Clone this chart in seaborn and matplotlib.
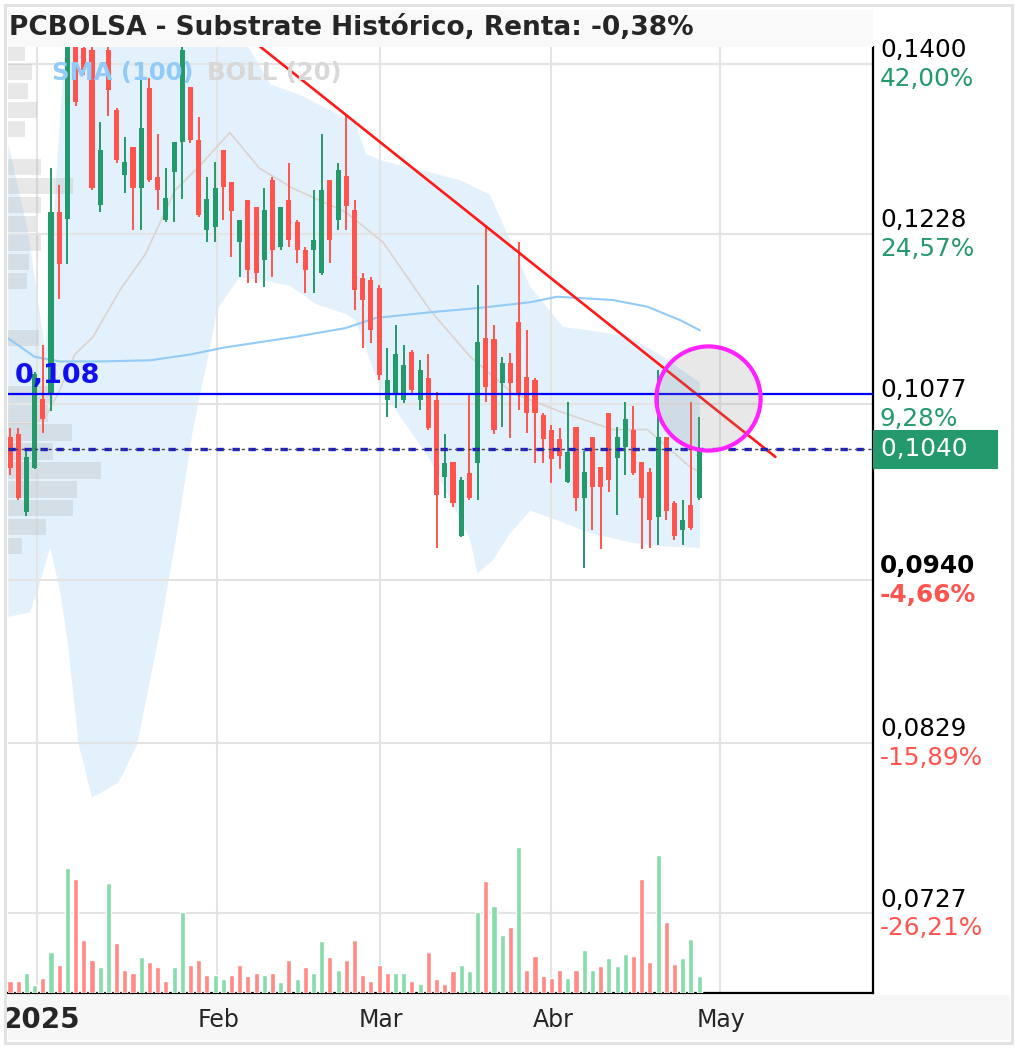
import numpy as np
import pandas as pd
import seaborn as sns
import matplotlib.pyplot as plt
from matplotlib.patches import Rectangle
from matplotlib.ticker import NullLocator

# daily sessions, late Dec 2024 -> end of April 2025
opens = [0.1050, 0.1052, 0.0991, 0.1025, 0.1081, 0.1085, 0.1249, 0.1242, 0.1421, 0.1418,
         0.1415, 0.1256, 0.1415, 0.1351, 0.1285, 0.1313, 0.1272, 0.1374, 0.1283, 0.1241,
         0.1288, 0.1318, 0.1375, 0.1320, 0.1232, 0.1235, 0.1310, 0.1278, 0.1220, 0.1261,
         0.1254, 0.1204, 0.1280, 0.1216, 0.1261, 0.1239, 0.1213, 0.1213, 0.1192, 0.1280,
         0.1241, 0.1284, 0.1251, 0.1187, 0.1185, 0.1178, 0.1080, 0.1086, 0.1080, 0.1121,
         0.1080, 0.1099, 0.1080, 0.1018, 0.1030, 0.0973, 0.1021, 0.1029, 0.1133, 0.1132,
         0.1095, 0.1112, 0.1147, 0.1100, 0.1097, 0.1068, 0.1056, 0.1048, 0.1014, 0.1058,
         0.1002, 0.1050, 0.1026, 0.1070, 0.1033, 0.1042, 0.1056, 0.1030, 0.1022, 0.0987,
         0.1050, 0.0998, 0.0977, 0.0996, 0.1002]
highs = [0.1057, 0.1057, 0.1040, 0.1104, 0.1127, 0.1292, 0.1275, 0.1440, 0.1432, 0.1426,
         0.1421, 0.1339, 0.1421, 0.1353, 0.1323, 0.1313, 0.1385, 0.1385, 0.1327, 0.1292,
         0.1318, 0.1426, 0.1375, 0.1344, 0.1283, 0.1298, 0.1310, 0.1278, 0.1241, 0.1261,
         0.1254, 0.1272, 0.1283, 0.1254, 0.1297, 0.1241, 0.1216, 0.1270, 0.1327, 0.1280,
         0.1297, 0.1347, 0.1261, 0.1192, 0.1188, 0.1181, 0.1125, 0.1145, 0.1127, 0.1123,
         0.1114, 0.1119, 0.1087, 0.1052, 0.1030, 0.1018, 0.1086, 0.1181, 0.1237, 0.1145,
         0.1117, 0.1120, 0.1220, 0.1140, 0.1099, 0.1070, 0.1060, 0.1057, 0.1079, 0.1058,
         0.1039, 0.1050, 0.1026, 0.1070, 0.1058, 0.1079, 0.1075, 0.1030, 0.1025, 0.1106,
         0.1050, 0.0999, 0.1000, 0.1079, 0.1066]
lows = [0.1020, 0.1000, 0.0988, 0.1024, 0.1053, 0.1071, 0.1168, 0.1200, 0.1355, 0.1388,
        0.1270, 0.1249, 0.1345, 0.1297, 0.1267, 0.1232, 0.1232, 0.1278, 0.1251, 0.1239,
        0.1239, 0.1262, 0.1317, 0.1244, 0.1220, 0.1220, 0.1241, 0.1206, 0.1188, 0.1182,
        0.1182, 0.1179, 0.1188, 0.1213, 0.1216, 0.1201, 0.1173, 0.1173, 0.1190, 0.1201,
        0.1232, 0.1232, 0.1158, 0.1125, 0.1129, 0.1097, 0.1066, 0.1074, 0.1078, 0.1086,
        0.1072, 0.1056, 0.0964, 0.1002, 0.0995, 0.0972, 0.1000, 0.1000, 0.1079, 0.1052,
        0.1058, 0.1049, 0.1072, 0.1053, 0.1029, 0.1029, 0.1013, 0.1024, 0.1013, 0.0992,
        0.0949, 0.0977, 0.0963, 0.1006, 0.0989, 0.1020, 0.1020, 0.0963, 0.0964, 0.0966,
        0.0985, 0.0970, 0.0966, 0.0977, 0.1000]
closes = [0.1025, 0.1002, 0.1034, 0.1102, 0.1065, 0.1249, 0.1200, 0.1426, 0.1360, 0.1394,
          0.1272, 0.1310, 0.1372, 0.1300, 0.1298, 0.1272, 0.1333, 0.1280, 0.1270, 0.1263,
          0.1318, 0.1415, 0.1320, 0.1246, 0.1262, 0.1272, 0.1273, 0.1250, 0.1241, 0.1194,
          0.1192, 0.1251, 0.1213, 0.1254, 0.1222, 0.1213, 0.1194, 0.1222, 0.1270, 0.1222,
          0.1290, 0.1255, 0.1176, 0.1167, 0.1140, 0.1101, 0.1097, 0.1119, 0.1110, 0.1089,
          0.1106, 0.1057, 0.1004, 0.1029, 0.0998, 0.1016, 0.1002, 0.1130, 0.1091, 0.1056,
          0.1112, 0.1095, 0.1086, 0.1070, 0.1070, 0.1048, 0.1032, 0.1035, 0.1038, 0.1002,
          0.1022, 0.1010, 0.1010, 0.1016, 0.1050, 0.1065, 0.1021, 0.1002, 0.0985, 0.1050,
          0.0992, 0.0973, 0.0985, 0.0979, 0.1040]
volume = [12, 12, 20, 8, 15, 42, 28, 127, 116, 54,
          34, 26, 112, 51, 23, 20, 37, 32, 26, 12,
          26, 82, 28, 34, 18, 18, 14, 18, 28, 17,
          20, 18, 20, 11, 34, 14, 26, 20, 53, 37,
          23, 34, 54, 18, 12, 28, 20, 20, 20, 12,
          9, 42, 14, 9, 22, 28, 22, 82, 114, 88,
          59, 67, 148, 23, 38, 17, 15, 23, 15, 23,
          44, 23, 27, 36, 27, 40, 38, 116, 32, 140,
          72, 29, 36, 55, 17]
vol_up = [0, 0, 1, 1, 0, 1, 0, 1, 0, 0,
          0, 1, 1, 0, 0, 0, 1, 0, 0, 0,
          1, 1, 0, 0, 0, 1, 1, 0, 0, 0,
          0, 1, 0, 1, 0, 1, 0, 1, 1, 0,
          1, 0, 0, 0, 0, 0, 0, 1, 1, 0,
          1, 0, 0, 0, 0, 1, 1, 1, 0, 1,
          1, 0, 1, 0, 0, 0, 0, 0, 1, 0,
          1, 1, 0, 1, 1, 1, 0, 0, 0, 1,
          0, 0, 1, 1, 1]

# Bollinger (20) and SMA (100), read at session positions
boll_up_x = [-0.2, 2.2, 4.3, 5.0, 6.0, 7.0, 26.8, 29.3, 31.8, 35.4, 39.0, 42.1, 43.4, 45.5,
             50.0, 54.9, 58.5, 60.4, 63.4, 67.4, 71.6, 75.6, 79.6, 84.1]
boll_up = [0.1317, 0.1230, 0.1123, 0.1200, 0.1330, 0.1450, 0.1450, 0.1415, 0.1378, 0.1367,
           0.1351, 0.1338, 0.1306, 0.1299, 0.1290, 0.1280, 0.1266, 0.1232, 0.1179, 0.1143,
           0.1139, 0.1134, 0.1117, 0.1095]
boll_lo_x = [-0.2, 2.4, 3.4, 4.9, 6.1, 7.0, 8.4, 10.0, 13.2, 15.5, 18.3, 20.4, 22.3, 24.8,
             25.2, 28.0, 31.3, 34.1, 37.4, 41.1, 42.1, 45.1, 51.2, 56.1, 57.0, 58.9, 61.0,
             63.4, 67.4, 70.7, 75.6, 79.6, 84.1]
boll_lo = [0.0914, 0.0917, 0.0933, 0.0964, 0.0933, 0.0898, 0.0828, 0.0795, 0.0804, 0.0828,
           0.0905, 0.0977, 0.1056, 0.1140, 0.1158, 0.1188, 0.1184, 0.1180, 0.1163, 0.1154,
           0.1149, 0.1091, 0.1032, 0.0970, 0.0945, 0.0955, 0.0975, 0.0992, 0.0983, 0.0975,
           0.0968, 0.0965, 0.0964]
boll_mid_x = [-0.2, 3.0, 4.3, 6.1, 7.9, 10.1, 13.4, 16.5, 20.1, 23.2, 26.8, 30.4, 34.5, 40.9,
              45.5, 51.2, 56.1, 61.3, 67.4, 73.5, 77.7, 82.9, 84.1]
boll_mid = [0.1061, 0.1061, 0.1066, 0.1089, 0.1119, 0.1134, 0.1176, 0.1209, 0.1270, 0.1295,
            0.1328, 0.1292, 0.1272, 0.1249, 0.1220, 0.1158, 0.1117, 0.1086, 0.1070, 0.1056,
            0.1056, 0.1026, 0.1022]
sma_x = [-0.2, 3.0, 6.1, 11.0, 17.1, 22.0, 26.1, 34.5, 40.9, 44.6, 51.2, 57.3, 63.4, 66.7,
         73.5, 77.7, 81.7, 84.1]
sma = [0.1133, 0.1117, 0.1113, 0.1113, 0.1114, 0.1119, 0.1125, 0.1134, 0.1142, 0.1151,
       0.1156, 0.1160, 0.1165, 0.1170, 0.1167, 0.1161, 0.1149, 0.1140]

# volume-at-price profile, bottom bin to top bin
profile_vol = [14, 38, 65, 69, 93, 45, 64, 40, 45, 0, 0, 31, 0, 0, 19, 21, 33, 28, 33, 65,
               33, 0, 17, 29, 20, 24, 17]
profile_range = (0.0959, 0.1424)

levels = [0.1400, 0.1228, 0.1077, 0.0940, 0.0829, 0.0727]
level_pct = [42.00, 24.57, 9.28, -4.66, -15.89, -26.21]
month_pos = [3.3, 25.2, 45.1, 66.0, 86.5]
month_labels = ['2025', 'Feb', 'Mar', 'Abr', 'May']
last_price = 0.1040
hline_level = 0.1085
trend_x = [30.5, 93.3]
trend_y = [0.1419, 0.1034]
title = 'PCBOLSA - Substrate Histórico, Renta: -0,38%'

GREEN = '#24996b'
RED = '#ff544e'

sns.set_style('white')
plt.rcParams['font.family'] = ['DejaVu Sans']

W, H = 1017, 1048
fig = plt.figure(figsize=(W / 100, H / 100), dpi=100)
fig.patch.set_facecolor('white')


def fx(px):
    return px / W


def fy(py):
    return 1 - py / H


ax = fig.add_axes([fx(8), fy(993), fx(865), 946 / H])
ax.set_yscale('log')
ax.set_ylim(0.06837, 0.14186)
ax.set_xlim(-0.24, 105.2)
ax.yaxis.set_minor_locator(NullLocator())
ax.set_xticks([])
ax.set_yticks([])
for s in ['top', 'left']:
    ax.spines[s].set_visible(False)
for s in ['right', 'bottom']:
    ax.spines[s].set_color('black')
    ax.spines[s].set_linewidth(1.6)

# grid
for lv in levels:
    ax.axhline(lv, color='#e4e4e4', lw=1.5, zorder=1.5)
for mp in month_pos:
    ax.axvline(mp, color='#e4e4e4', lw=1.5, zorder=1.5)

# bollinger band
poly_x = list(boll_up_x) + list(boll_lo_x[::-1])
poly_y = list(boll_up) + list(boll_lo[::-1])
ax.fill(poly_x, poly_y, color='#e2f1fc', lw=0, zorder=1)

# volume profile
edges = np.geomspace(profile_range[0], profile_range[1], len(profile_vol) + 1)
pv = np.array(profile_vol, dtype=float)
ax.barh(edges[:-1], pv / pv.max() * 11.3, height=np.diff(edges) * 0.85, left=-0.24,
        align='edge', color='#b5b5b5', alpha=0.3, lw=0, zorder=2)

sns.lineplot(x=boll_mid_x, y=boll_mid, ax=ax, color='#dcd2ce', lw=1.2, zorder=2.5)
sns.lineplot(x=sma_x, y=sma, ax=ax, color='#92cbf7', lw=1.5, zorder=2.6)

# candles
o = np.array(opens)
c = np.array(closes)
hi = np.array(highs)
lo = np.array(lows)
idx = np.arange(len(c))
cols = np.where(c >= o, GREEN, RED)
ax.vlines(idx, lo, hi, colors=cols, lw=1.4, zorder=4)
ax.bar(idx, np.maximum(np.abs(c - o), 0.00012), bottom=np.minimum(o, c), width=0.62,
       color=cols, lw=0, zorder=4)

# trend line, levels, circle
ax.plot(trend_x, trend_y, color='#ff1a1a', lw=1.9, zorder=5)
ax.axhline(hline_level, color='#0000ff', lw=1.6, zorder=5)
ax.axhline(last_price, color='#1c1ccc', lw=2.4, dashes=(2.2, 2.6), zorder=5)
ax.axhline(last_price, color='#444444', lw=1.0, dashes=(2.2, 2.6), zorder=5.1)
ax.plot([85.1], [0.1082], 'o', ms=75, mfc=(0.55, 0.55, 0.55, 0.2), mec='#ff22ff', mew=3,
        zorder=6)

yax = ax.get_yaxis_transform()
ax.annotate('0,108', xy=(0.008, hline_level), xycoords=yax, xytext=(0, 13),
            textcoords='offset points', ha='left', va='center', fontsize=19.5,
            fontweight='bold', color='#1010ee', zorder=7)
ax.text(0.051, 0.9725, 'SMA (100)', transform=ax.transAxes, fontsize=17.5,
        fontweight='bold', color='#92cbf7', va='center', ha='left', zorder=7)
ax.text(0.23, 0.9725, 'BOLL (20)', transform=ax.transAxes, fontsize=17.5,
        fontweight='bold', color='#d8d8d8', va='center', ha='left', zorder=7)

# right price scale
for lv, pc in zip(levels, level_pct):
    bold = 'bold' if lv == 0.0940 else 'normal'
    ax.annotate(f'{lv:.4f}'.replace('.', ','), xy=(1, lv), xycoords=yax, xytext=(5, 10),
                textcoords='offset points', ha='left', va='center', fontsize=17.8,
                color='black', fontweight=bold, annotation_clip=False)
    ax.annotate(f'{pc:.2f}%'.replace('.', ','), xy=(1, lv), xycoords=yax, xytext=(5, -10.5),
                textcoords='offset points', ha='left', va='center', fontsize=17.8,
                color=GREEN if pc > 0 else RED, fontweight=bold, annotation_clip=False)
ax.text(1.009, last_price, f'{last_price:.4f}'.replace('.', ',') + '   ', transform=yax,
        ha='left', va='center', fontsize=17.8, color='white', clip_on=False,
        bbox=dict(boxstyle='square,pad=0.3', fc=GREEN, ec='none'))

# volume panel
axv = ax.twinx()
vdf = pd.DataFrame({'idx': idx, 'vol': volume,
                    'dir': ['up' if u else 'down' for u in vol_up]})
sns.barplot(data=vdf, x='idx', y='vol', hue='dir', palette={'up': '#86dcab', 'down': '#ff8a86'},
            native_scale=True, dodge=False, width=0.62, errorbar=None, saturation=1,
            legend=False, ax=axv)
axv.set_ylim(0, max(volume) * 6.5)
axv.set_xlim(-0.24, 105.2)
axv.set_xlabel('')
axv.set_ylabel('')
axv.set_xticks([])
axv.set_yticks([])
for s in axv.spines.values():
    s.set_visible(False)
axv.patch.set_visible(False)

# month labels
for mp, ml in zip(month_pos, month_labels):
    first = ml == '2025'
    ax.annotate(ml, xy=(mp, 0), xycoords=ax.get_xaxis_transform(),
                xytext=(3.5 if first else 1, -19.5),
                textcoords='offset points', ha='center', va='center',
                fontsize=20 if first else 17,
                fontweight='bold' if first else 'normal', annotation_clip=False)

# frame, title bar, date band
fig.patches.append(Rectangle((fx(8), fy(1040)), fx(1002), 45 / H, transform=fig.transFigure,
                             fc='#f7f7f7', ec='none', zorder=-1))
fig.patches.append(Rectangle((fx(8), fy(47)), fx(865), 37 / H, transform=fig.transFigure,
                             fc='#f9f9f9', ec='none', zorder=10))
fig.patches.append(Rectangle((fx(5), fy(1043)), fx(1007), 1038 / H, transform=fig.transFigure,
                             fc='none', ec='#e2e2e2', lw=2.2, zorder=11))
fig.text(fx(9), fy(28), title, fontsize=19, fontweight='bold', ha='left', va='center',
         zorder=12)

fig.savefig('out.png', dpi=100)
